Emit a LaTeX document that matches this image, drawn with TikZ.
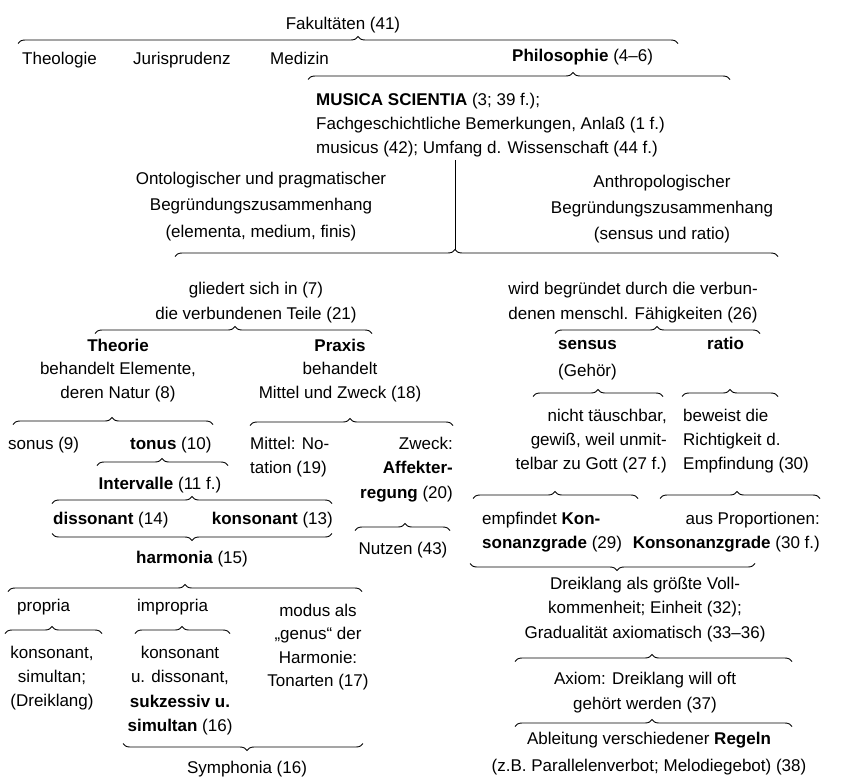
\documentclass[tikz,border=0pt]{standalone}
\usepackage{fontspec}
\setmainfont{Liberation Sans}
\usetikzlibrary{decorations.pathreplacing}
\newcommand{\fs}{\rule{0pt}{12.7pt}}
\newcommand{\bup}[4]{\pgfmathsetmacro\myasp{(#4-#1)/(#2-#1)}\draw[brc, decoration={brace,amplitude=7pt,aspect=\myasp}] (#1,#3+3.5) -- (#2,#3+3.5);}
\newcommand{\bdn}[4]{\pgfmathsetmacro\myasp{(#2-#4)/(#2-#1)}\draw[brc, decoration={brace,amplitude=7pt,aspect=\myasp}] (#2,#3-3.5) -- (#1,#3-3.5);}
\begin{document}
\begin{tikzpicture}[x=1pt,y=-1pt,
  t/.style={inner sep=0pt, font=\fontsize{17}{24.5}\selectfont},
  bs/.style={font=\fontsize{17}{#1}\selectfont},
  brc/.style={decorate, line width=0.9pt}]
\useasboundingbox (0,0) rectangle (845,776);
\fill[white] (0,0) rectangle (845,776);
% top
\node[t,anchor=north] (fak) at (343,16.5) {\fs Fakultäten (41)};
\bup{18}{678}{40}{358}
\node[t,anchor=north west] (theo) at (22,51.5) {\fs Theologie};
\node[t,anchor=north west] (jur) at (133,51.5) {\fs Jurisprudenz};
\node[t,anchor=north west] (med) at (270,51.5) {\fs Medizin};
\node[t,anchor=north west] (phil) at (512,49) {\fs \textbf{Philosophie} (4--6)};
\bup{308}{730}{76}{573}
\node[t,bs=24,anchor=north west,align=left] (mus) at (316,92.5) {\fs\textbf{MUSICA SCIENTIA} (3; 39 f.);\\Fachgeschichtliche Bemerkungen, Anlaß (1 f.)\\musicus (42); Umfang d. Wissenschaft (44 f.)};
\coordinate (vtop) at (455,160);
\coordinate (vbot) at (455,249.5);
\draw[line width=0.9pt] (vtop) -- (vbot);
\bup{175}{778}{253}{455}
\node[t,bs=26.5,anchor=north,align=center] (ont) at (261,171.5) {\fs Ontologischer und pragmatischer\\Begründungszusammenhang\\(elementa, medium, finis)};
\node[t,bs=26,anchor=north,align=center] (anth) at (662,174.5) {\fs Anthropologischer\\Begründungszusammenhang\\(sensus und ratio)};
% left branch
\node[t,bs=25,anchor=north,align=center] (glied) at (256,281.5) {\fs gliedert sich in (7)\\die verbundenen Teile (21)};
\bup{95}{372}{330}{235}
\node[t,bs=23.5,anchor=north,align=center] (theor) at (118,338.5) {\fs\textbf{Theorie}\\behandelt Elemente,\\deren Natur (8)};
\node[t,bs=23.5,anchor=north,align=center] (prax) at (340,338.5) {\fs\textbf{Praxis}\\behandelt\\Mittel und Zweck (18)};
\bup{13}{213}{421}{112}
\bup{250}{453}{422}{350}
\node[t,anchor=north west] (sonus) at (8,436.5) {\fs sonus (9)};
\node[t,anchor=north west] (tonus) at (130,436.5) {\fs\textbf{tonus} (10)};
\node[t,bs=24.5,anchor=north west,align=left] (mittel) at (250,436.5) {\fs Mittel: No-\\tation (19)};
\node[t,bs=24.5,anchor=north east,align=right] (zweck) at (453,436.5) {\fs Zweck:\\\textbf{Affekter-}\\\textbf{regung} (20)};
\bup{97}{228}{462}{162}
\node[t,anchor=north] (interv) at (160,476.5) {\fs\textbf{Intervalle} (11 f.)};
\bup{52}{332}{500}{192}
\node[t,anchor=north west] (diss) at (53,511.5) {\fs\textbf{dissonant} (14)};
\node[t,anchor=north east] (kons) at (333,511.5) {\fs\textbf{konsonant} (13)};
\bdn{52}{332}{537}{192}
\node[t,anchor=north] (harm) at (192,550.5) {\fs\textbf{harmonia} (15)};
\bup{355}{450}{527}{405}
\node[t,anchor=north] (nutzen) at (403,541.5) {\fs Nutzen (43)};
\bup{8}{362}{588}{185}
\node[t,anchor=north west] (propria) at (17,598.5) {\fs propria};
\node[t,anchor=north west] (impropria) at (137,598.5) {\fs impropria};
\node[t,bs=23.3,anchor=north,align=center] (modus) at (318,603.5) {\fs modus als\\„genus“ der\\Harmonie:\\Tonarten (17)};
\bup{5}{102}{630}{52}
\bup{135}{230}{630}{182}
\node[t,bs=24,anchor=north,align=center] (propsub) at (52,645.5) {\fs konsonant,\\simultan;\\(Dreiklang)};
\node[t,bs=24.3,anchor=north,align=center] (impsub) at (180,645.5) {\fs konsonant\\u. dissonant,\\\textbf{sukzessiv u.}\\\textbf{simultan} (16)};
\bdn{123}{363}{747}{247}
\node[t,anchor=north] (symph) at (247,760.5) {\fs Symphonia (16)};
% right branch
\node[t,bs=25,anchor=north,align=center] (wird) at (633,281.5) {\fs wird begründet durch die verbun-\\denen menschl. Fähigkeiten (26)};
\bup{555}{760}{330}{657}
\node[t,bs=27,anchor=north west,align=left] (sensus) at (558,336.5) {\fs\textbf{sensus}\\(Gehör)};
\node[t,anchor=north west] (ratio) at (707,336.5) {\fs\textbf{ratio}};
\bup{533}{663}{393}{598}
\bup{682}{778}{393}{730}
\node[t,bs=24,anchor=north east,align=right] (nicht) at (667,408.5) {\fs nicht täuschbar,\\gewiß, weil unmit-\\telbar zu Gott (27 f.)};
\node[t,bs=24,anchor=north west,align=left] (beweist) at (683,408.5) {\fs beweist die\\Richtigkeit d.\\Empfindung (30)};
\bup{473}{638}{495}{555}
\bup{660}{820}{495}{737}
\node[t,bs=24,anchor=north west,align=left] (empf) at (482,511.5) {\fs empfindet \textbf{Kon-}\\\textbf{sonanzgrade} (29)};
\node[t,bs=24,anchor=north east,align=right] (prop) at (820,511.5) {\fs aus Proportionen:\\\textbf{Konsonanzgrade} (30 f.)};
\bdn{470}{755}{567}{617}
\node[t,bs=24.5,anchor=north,align=center] (dreik) at (645,576.5) {\fs Dreiklang als größte Voll-\\kommenheit; Einheit (32);\\Gradualität axiomatisch (33--36)};
\bup{515}{792}{658}{652}
\node[t,bs=25,anchor=north,align=center] (axiom) at (645,671.5) {\fs Axiom: Dreiklang will oft\\gehört werden (37)};
\bup{515}{792}{723}{652}
\node[t,bs=27,anchor=north,align=center] (ableit) at (649,731.5) {\fs Ableitung verschiedener \textbf{Regeln}\\(z.B. Parallelenverbot; Melodiegebot) (38)};
\end{tikzpicture}
\end{document}
